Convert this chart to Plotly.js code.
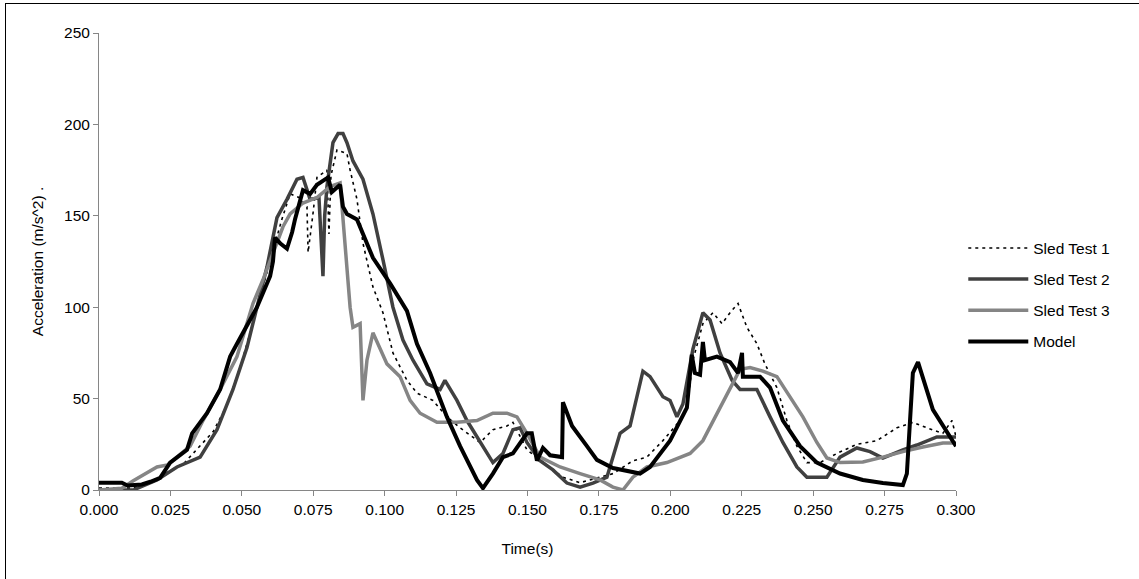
<!DOCTYPE html>
<html>
<head>
<meta charset="utf-8">
<script src="https://cdn.plot.ly/plotly-3.0.1.min.js"></script>
<style>
  html, body { margin: 0; padding: 0; background: #fff; overflow: hidden; }
  #chart { position: absolute; left: 0; top: 0; width: 1139px; height: 579px; }
  #frame { position: absolute; left: 5px; top: 3px; width: 1300px; height: 800px;
           border-left: 1px solid #000; border-top: 1px solid #000; pointer-events: none; z-index: 5; }
</style>
</head>
<body>
<div id="chart"></div>
<div id="frame"></div>
<script>
// ---- data (time in s, acceleration in m/s^2) ----
const seriesNames = ["Sled Test 1", "Sled Test 2", "Sled Test 3", "Model"];

const test1Time = [0, 0.012, 0.020, 0.030, 0.040, 0.045, 0.050, 0.055, 0.060, 0.0640, 0.0669, 0.0700, 0.0728, 0.0732, 0.0749, 0.0763, 0.0798, 0.0805, 0.0812, 0.0833, 0.0868, 0.0879, 0.0903, 0.0924, 0.0959, 0.0994, 0.1029, 0.1078, 0.1113, 0.1169, 0.1218, 0.1264, 0.1334, 0.1379, 0.1428, 0.1449, 0.1498, 0.1589, 0.1624, 0.1684, 0.1750, 0.1800, 0.1869, 0.1918, 0.1974, 0.2034, 0.2058, 0.2079, 0.2114, 0.2149, 0.2181, 0.2209, 0.2237, 0.2268, 0.2303, 0.2331, 0.2373, 0.2408, 0.2443, 0.2478, 0.2524, 0.2583, 0.2653, 0.2723, 0.2793, 0.2849, 0.2898, 0.2954, 0.2986, 0.300];
const test1Acc = [1, 1, 6, 15, 32, 47, 70, 98, 125, 148, 162, 160, 155, 130, 151, 171, 175, 140, 172, 186, 184, 175, 159, 135, 111, 97, 75, 60, 53, 49, 40, 34, 26, 33, 35, 37, 22, 11, 7, 4, 7, 9, 16, 18, 27, 38, 44, 71, 91, 97, 91, 97, 102, 89, 80, 69, 56, 38, 24, 15, 15, 20, 25, 27, 34, 37, 34, 31, 38, 29];

const test2Time = [0, 0.012, 0.0203, 0.0273, 0.0354, 0.0413, 0.0469, 0.0518, 0.0553, 0.0588, 0.0623, 0.0658, 0.0693, 0.0714, 0.0739, 0.0770, 0.0784, 0.0790, 0.0798, 0.0819, 0.0837, 0.0854, 0.0868, 0.0889, 0.0924, 0.0959, 0.0994, 0.1029, 0.1064, 0.1099, 0.1148, 0.1194, 0.1211, 0.1253, 0.1288, 0.1334, 0.1379, 0.1414, 0.1449, 0.1474, 0.1498, 0.1544, 0.1589, 0.1638, 0.1684, 0.1729, 0.1778, 0.1824, 0.1859, 0.1904, 0.1929, 0.1974, 0.1999, 0.2023, 0.2044, 0.2079, 0.2114, 0.2139, 0.2174, 0.2216, 0.2244, 0.2279, 0.2303, 0.2349, 0.2394, 0.2443, 0.2478, 0.2548, 0.2594, 0.2653, 0.2699, 0.2744, 0.2814, 0.2863, 0.2933, 0.300];
const test2Acc = [0, 0, 5.5, 12.6, 18, 33, 55, 78, 100, 122, 149, 159, 170, 171, 159, 160, 117, 150, 166, 190, 195, 195, 190, 180, 170, 151, 126, 100, 82, 71, 58, 55, 60, 49, 38, 26, 15, 20, 33, 34, 26, 16, 11, 3.8, 1.6, 3.8, 7, 31, 35, 65, 62, 51, 49, 40, 47, 77, 97, 93, 75, 60, 55, 55, 55, 40, 26, 12.6, 7, 7, 18, 23, 21, 17.5, 22, 24.6, 29, 29];

const test3Time = [0, 0.008, 0.012, 0.0203, 0.024, 0.0319, 0.0364, 0.0424, 0.0483, 0.0539, 0.0574, 0.0609, 0.0644, 0.0669, 0.0714, 0.0763, 0.0809, 0.0844, 0.0854, 0.0868, 0.0879, 0.0889, 0.0914, 0.0924, 0.0938, 0.0959, 0.0984, 0.1008, 0.1054, 0.1089, 0.1124, 0.1183, 0.1253, 0.1323, 0.1379, 0.1428, 0.1463, 0.1498, 0.1544, 0.1614, 0.1684, 0.1754, 0.1799, 0.1834, 0.1869, 0.1918, 0.1988, 0.2069, 0.2114, 0.2163, 0.2209, 0.2244, 0.2279, 0.2324, 0.2373, 0.2419, 0.2464, 0.2513, 0.2548, 0.2594, 0.2674, 0.2744, 0.2814, 0.2884, 0.2954, 0.300];
const test3Acc = [0, 1, 5, 12.6, 13.7, 24, 38, 55, 73, 102, 115, 129, 144, 151, 157, 160, 166, 168, 148, 122, 100, 89, 91, 49, 71, 86, 77, 69, 62, 49, 42, 37, 37, 38, 42, 42, 40, 31, 18, 12.6, 9, 5.5, 1.6, 0, 7, 12.6, 15, 20, 27, 42, 56, 66, 67, 65, 62, 51, 40, 26, 17.5, 15, 15.3, 18, 21, 23.5, 25.7, 25.7];

const modelTime = [0, 0.004, 0.008, 0.010, 0.015, 0.018, 0.0214, 0.0249, 0.0308, 0.0326, 0.0378, 0.0424, 0.0459, 0.0483, 0.0504, 0.0553, 0.0599, 0.0609, 0.0616, 0.0634, 0.0658, 0.0676, 0.0686, 0.0714, 0.0739, 0.0763, 0.0802, 0.0815, 0.0844, 0.0854, 0.0868, 0.0903, 0.0959, 0.1019, 0.1078, 0.1113, 0.1159, 0.1218, 0.1264, 0.1323, 0.1344, 0.1379, 0.1414, 0.1449, 0.1498, 0.1515, 0.1533, 0.1554, 0.1579, 0.1621, 0.1624, 0.1656, 0.1708, 0.1743, 0.1799, 0.1894, 0.1929, 0.1999, 0.2058, 0.2075, 0.2086, 0.2104, 0.2114, 0.2121, 0.2163, 0.2209, 0.2237, 0.2251, 0.2254, 0.2279, 0.2314, 0.2349, 0.2394, 0.2454, 0.2513, 0.2594, 0.2674, 0.2744, 0.2814, 0.2828, 0.2849, 0.2867, 0.2919, 0.300];
const modelAcc = [4, 4, 4, 2.5, 3, 4.5, 6.6, 15, 22, 31, 42, 55, 73, 80, 86, 100, 117, 125, 138, 135, 132, 141, 148, 164, 162, 167, 171, 163, 167, 155, 151, 148, 127, 113, 98, 80, 64, 40, 24, 5.5, 1, 9, 18, 20, 31, 31, 16, 23, 19, 18, 48, 35, 24, 16.5, 12, 9, 12.6, 27, 45, 74, 64, 63, 81, 71, 73, 70, 64, 75, 62, 62, 62, 56, 38, 24, 15, 9, 5.5, 3.8, 2.7, 9, 64, 70, 44, 24];

const xTickVals = [0, 0.025, 0.05, 0.075, 0.1, 0.125, 0.15, 0.175, 0.2, 0.225, 0.25, 0.275, 0.3];
const yTickVals = [0, 50, 100, 150, 200, 250];

// ---- chart ----
const FONT = "Liberation Sans, Arial, sans-serif";
const styles = [
  { color: "#000000", width: 1.6, dash: "3px,4px" },
  { color: "#404040", width: 3.5, dash: "solid" },
  { color: "#858585", width: 3.5, dash: "solid" },
  { color: "#000000", width: 4, dash: "solid" }
];
const xs = [test1Time, test2Time, test3Time, modelTime];
const ys = [test1Acc, test2Acc, test3Acc, modelAcc];

const traces = seriesNames.map((n, i) => ({
  type: "scatter",
  mode: "lines",
  name: n,
  legendgroup: "g" + i,
  x: xs[i],
  y: ys[i],
  line: { color: styles[i].color, width: styles[i].width, dash: styles[i].dash },
  hoverinfo: "skip"
}));

const axisCommon = {
  showgrid: false,
  zeroline: false,
  showline: true,
  linecolor: "#868686",
  linewidth: 1,
  ticks: "outside",
  ticklen: 5,
  tickcolor: "#868686",
  tickwidth: 1,
  tickfont: { family: FONT, size: 15.5, color: "#000" }
};

const layout = {
  width: 1139,
  height: 579,
  margin: { l: 99, r: 183, t: 33, b: 89 },
  paper_bgcolor: "#fff",
  plot_bgcolor: "#fff",
  font: { family: FONT, size: 15.5, color: "#000" },
  showlegend: true,
  legend: {
    x: 1.0085, xanchor: "left",
    y: 0.427, yanchor: "middle",
    bgcolor: "rgba(0,0,0,0)",
    borderwidth: 0,
    itemwidth: 60,
    traceorder: "grouped",
    tracegroupgap: 8,
    font: { family: FONT, size: 15.5, color: "#000" }
  },
  xaxis: Object.assign({}, axisCommon, {
    range: [0, 0.3],
    tickvals: xTickVals,
    tickformat: ".3f",
    title: { text: "Time(s)", font: { family: FONT, size: 15.5, color: "#000" }, standoff: 26 }
  }),
  yaxis: Object.assign({}, axisCommon, {
    range: [0, 250],
    tickvals: yTickVals,
    title: { text: "Acceleration (m/s^2) .", font: { family: FONT, size: 15.5, color: "#000" }, standoff: 16 }
  })
};

Plotly.newPlot("chart", traces, layout, { staticPlot: true, displayModeBar: false });
</script>
</body>
</html>
